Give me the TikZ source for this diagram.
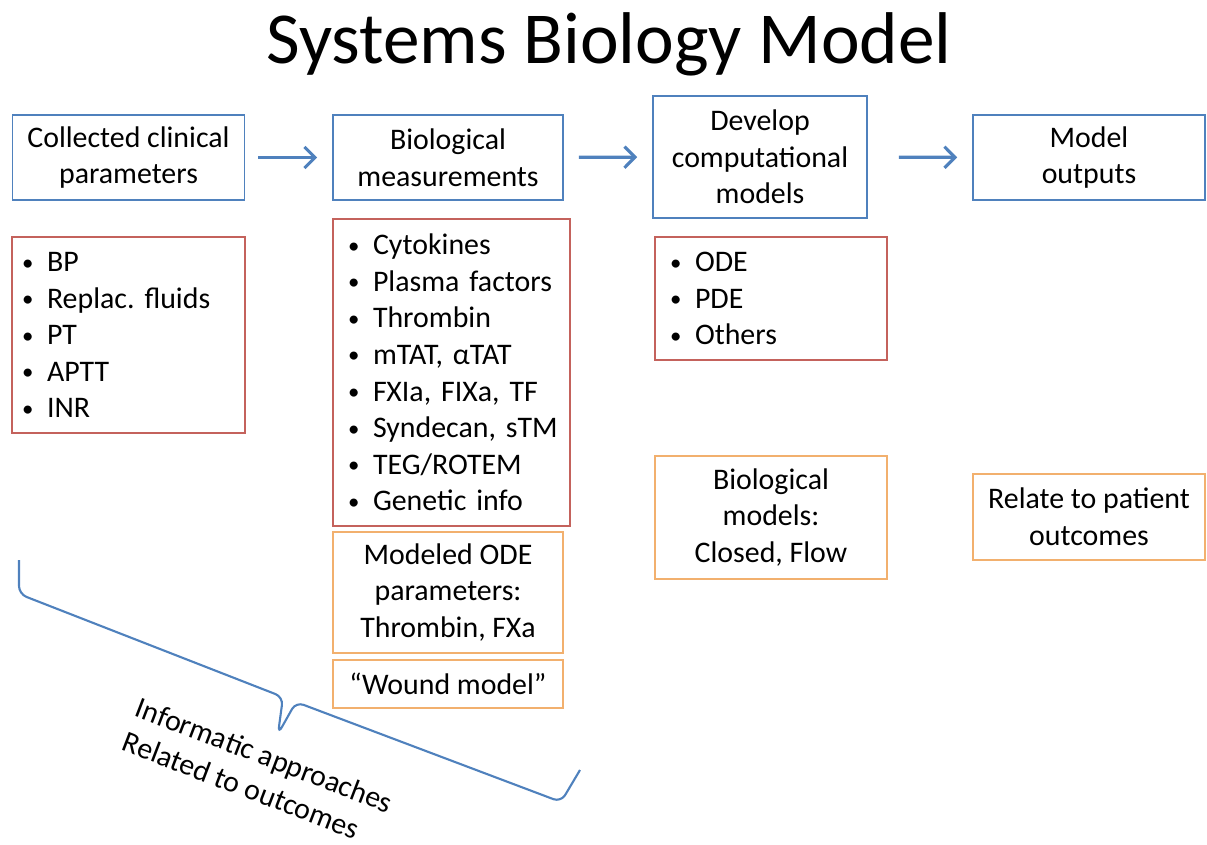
\documentclass[tikz,border=0pt]{standalone}
\usepackage{fontspec}
\setmainfont{Carlito}
\usepackage{tikz}
\usetikzlibrary{arrows.meta}
\usetikzlibrary{positioning}

\definecolor{boxblue}{RGB}{79,129,189}
\definecolor{boxred}{RGB}{196,98,92}
\definecolor{boxorange}{RGB}{242,176,110}

\newcommand{\itm}[1]{\mbox{\makebox[0.5cm][l]{\raisebox{0.05em}{\fontsize{13}{13}\selectfont•}}#1}}

\begin{document}
\begin{tikzpicture}[x=0.02cm, y=-0.02cm]
	\tikzstyle{txt}=[font=\fontsize{17}{20.8}\selectfont\frenchspacing, align=center, inner sep=0pt]
	\tikzstyle{stage}=[txt, draw=boxblue, line width=0.9pt, minimum height=1.7cm, minimum width=4.64cm];
	\tikzstyle{items}=[txt, draw=boxred, line width=0.9pt, align=left];
	\tikzstyle{extra}=[txt, draw=boxorange, line width=0.9pt, minimum width=4.6cm];
	\tikzstyle{flow}=[draw=boxblue, line width=1.8pt, -{Straight Barb[length=6pt, width=12pt]}];
	\useasboundingbox (0,0) rectangle (1207,845);

	\node[font=\fontsize{41.7}{48}\selectfont, anchor=base] (title) at (609,63) {Systems Biology Model};

	% top row
	\node[stage] (clin) at (128.5,157.5) {Collected clinical\\parameters};
	\node[stage, minimum width=4.6cm] (bio) at (448,157.5) {Biological\\measurements};
	\node[stage, minimum width=4.28cm, minimum height=2.44cm] (dev) at (760,157) {Develop\\computational\\models};
	\node[stage] (out) at (1089,157.5) {Model\\outputs};

	\draw[flow, shorten <=0.26cm, shorten >=0.3cm] (clin) -- (bio);
	\draw[flow, shorten <=0.3cm, shorten >=0.3cm] (bio) -- (dev);
	\draw[flow, shorten <=0.62cm, shorten >=0.3cm] (dev) -- (out);

	% lists
	\node[items, inner xsep=0.2cm, text width=4.26cm, minimum height=3.92cm] (clinlist) at (128.5,335)
	{\itm{BP}\\ \itm{Replac. fluids}\\ \itm{PT}\\ \itm{APTT}\\ \itm{INR}};
	\node[items, inner xsep=0.3cm, text width=4.14cm, minimum height=6.14cm] (biolist) at (451.5,372.5)
	{\itm{Cytokines}\\ \itm{Plasma factors}\\ \itm{Thrombin}\\ \itm{mTAT, αTAT}\\ \itm{FXIa, FIXa, TF}\\
	 \itm{Syndecan, sTM}\\ \itm{TEG/ROTEM}\\ \itm{Genetic info}};
	\node[items, inner xsep=0.3cm, text width=4.04cm, minimum height=2.46cm] (devlist) at (771,298.5)
	{\itm{ODE}\\ \itm{PDE}\\ \itm{Others}};

	% orange boxes
	\node[extra, minimum height=2.42cm] (odepar) at (448,592.5) {Modeled ODE\\parameters:\\Thrombin, FXa};
	\node[extra, minimum height=0.96cm] (wound) at (448,684) {“Wound model”};
	\node[extra, minimum width=4.64cm, minimum height=2.46cm] (biomod) at (771,517.5) {Biological\\models:\\Closed, Flow};
	\node[extra, minimum width=4.64cm, minimum height=1.72cm] (relate) at (1089,517) {Relate to patient\\outcomes};

	% brace
	\coordinate (bA) at (19,560);
	\coordinate (bB) at (580,770);
	\draw[boxblue, line width=1.2pt, rounded corners=0.16cm]
	(bA) -- (19,594) -- (283,697) -- (278,734) -- (296,702) -- (561,802) -- (bB);
	\node[txt, align=left, rotate=-21] (info) at (258,772) {Informatic approaches\\Related to outcomes};
\end{tikzpicture}
\end{document}
